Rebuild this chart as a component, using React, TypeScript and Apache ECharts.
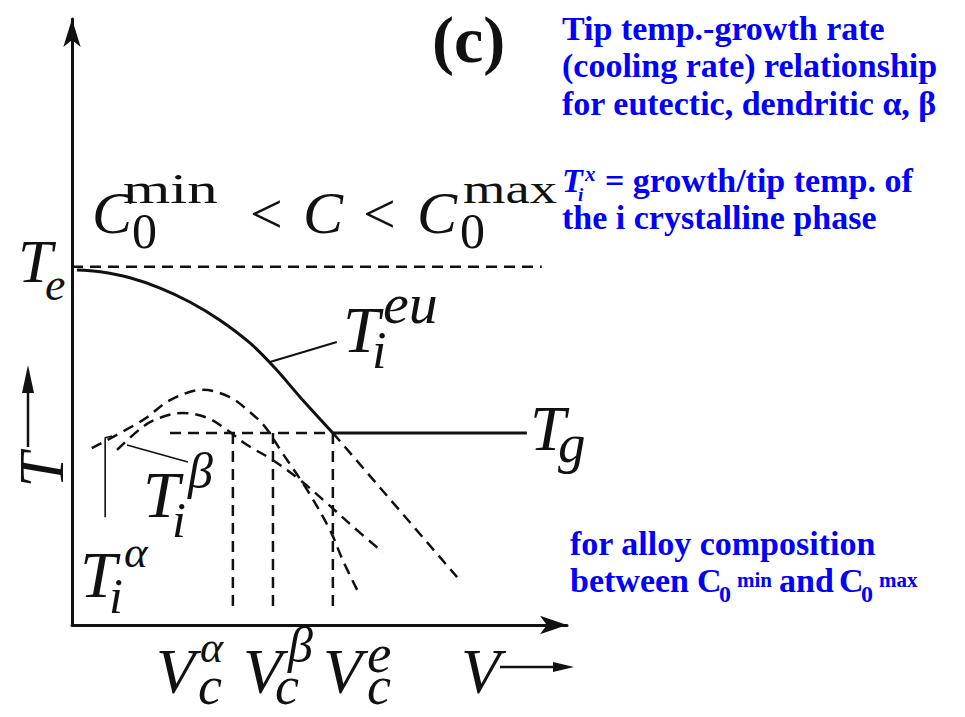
import React, { useEffect, useRef } from 'react';
import * as echarts from 'echarts';

// ---- schematic data (V = growth rate, T = temperature, arbitrary units) ----
const T_E = 59.1; // eutectic temperature
const T_G = 31.7; // level where the eutectic curve flattens
const V_C = [32.5, 40.6, 52.7]; // critical rates V_c^alpha, V_c^beta, V_c^e
const V_TE_END = 94.9;
const V_TG_DASH_START = 19.8;
const V_TG_END = 91.9;
const V_FLOOR = 2.0;

const eutecticCurve: number[][] = [
  [1.0, 58.6], [5.7, 58.3], [11.7, 57.3], [17.8, 55.6], [23.8, 53.3],
  [29.9, 50.3], [36.0, 46.5], [41.0, 42.4], [46.1, 37.6], [52.7, 31.7],
];
const eutecticExtension: number[][] = [[52.7, 31.7], [77.8, 7.9]];
const alphaTip: number[][] = [
  [4.0, 29.2], [14.3, 33.8], [19.8, 37.1], [26.5, 38.8], [31.9, 37.6], [35.4, 35.5],
  [39.0, 32.7], [42.4, 28.5], [47.5, 22.3], [52.1, 15.7], [54.7, 10.7], [57.6, 5.8],
];
const betaTip: number[][] = [
  [9.1, 28.9], [14.3, 32.7], [17.8, 34.2], [22.4, 35.0], [27.3, 34.2], [31.3, 32.2],
  [35.4, 29.7], [40.6, 27.2], [46.1, 23.9], [51.5, 20.1], [56.8, 16.2], [62.8, 12.0],
];
const leaderEu: number[][] = [[40.0, 43.4], [53.5, 46.7]];
const leaderAlpha: number[][] = [[8.1, 31.2], [6.7, 30.9], [6.7, 17.8]];
const leaderBeta: number[][] = [[11.1, 29.7], [23.4, 26.9]];

const INK = '#111';
const BLUE = '#0000ff';
const SERIF = '"Liberation Serif", "Times New Roman", Times, serif';

type TOpt = { italic?: boolean; bold?: boolean; sx?: number; color?: string };

// text placed by its left edge and baseline
function label(text: string, x: number, baseline: number, size: number, o: TOpt = {}) {
  return {
    type: 'text',
    x,
    y: baseline - 0.34 * size,
    scaleX: o.sx ?? 1,
    silent: true,
    z: 10,
    style: {
      text,
      fill: o.color ?? INK,
      fontFamily: SERIF,
      fontSize: size,
      fontStyle: o.italic === false ? 'normal' : 'italic',
      fontWeight: o.bold ? 'bold' : 'normal',
      align: 'left',
      verticalAlign: 'middle',
    },
  };
}
const note = (text: string, x: number, baseline: number, size = 34, italic = false) =>
  label(text, x, baseline, size, { bold: true, italic, color: BLUE });

function curve(data: number[][], dashed: boolean, width = 2.5, smooth: number | boolean = false) {
  return {
    type: 'line',
    data,
    smooth,
    symbol: 'none',
    silent: true,
    clip: false,
    lineStyle: { color: INK, width, type: dashed ? [11, 7] : 'solid', cap: 'butt' },
  };
}

const axisCommon = {
  type: 'value',
  min: 0,
  max: 100,
  axisTick: { show: false },
  axisLabel: { show: false },
  splitLine: { show: false },
};

const option = {
  animation: false,
  backgroundColor: '#fff',
  grid: { left: 72, top: 19, width: 495, height: 606 },
  xAxis: {
    ...axisCommon,
    axisLine: { show: true, symbol: ['none', 'arrow'], symbolSize: [14, 27], lineStyle: { color: INK, width: 3 } },
  },
  yAxis: {
    ...axisCommon,
    axisLine: { show: true, symbol: ['none', 'arrow'], symbolSize: [13, 28], lineStyle: { color: INK, width: 3 } },
  },
  series: [
    curve([[0, T_E], [V_TE_END, T_E]], true),
    curve(eutecticCurve, false, 3, 0.35),
    curve([[V_C[2], T_G], [V_TG_END, T_G]], false, 3),
    curve([[V_TG_DASH_START, T_G], [V_C[2], T_G]], true),
    ...V_C.map((v) => curve([[v, T_G], [v, V_FLOOR]], true)),
    curve(eutecticExtension, true),
    curve(alphaTip, true, 2.5, 0.35),
    curve(betaTip, true, 2.5, 0.35),
    curve(leaderEu, false, 2),
    curve(leaderAlpha, false, 1.6),
    curve(leaderBeta, false, 1.6),
  ],
  graphic: [
    label('(c)', 432, 62, 66, { italic: false, bold: true }),
    // C0^min < C < C0^max
    label('C', 92, 233, 60),
    label('min', 123, 203, 42, { italic: false, sx: 1.45 }),
    label('0', 132, 248, 50, { italic: false }),
    label('<', 250, 233, 58, { italic: false }),
    label('C', 303, 233, 60),
    label('<', 363, 233, 58, { italic: false }),
    label('C', 417, 233, 60),
    label('max', 463, 203, 42, { italic: false, sx: 1.3 }),
    label('0', 460, 248, 50, { italic: false }),
    // T_e
    label('T', 18, 282, 62),
    label('e', 45, 300, 46),
    // rotated T with upward arrow
    {
      type: 'text', x: 42, y: 470, rotation: Math.PI / 2, silent: true,
      style: { text: 'T', fill: INK, fontFamily: SERIF, fontSize: 63, fontStyle: 'italic', align: 'center', verticalAlign: 'middle' },
    },
    { type: 'line', silent: true, shape: { x1: 28, y1: 447, x2: 28, y2: 390 }, style: { stroke: INK, lineWidth: 2.5 } },
    { type: 'polygon', silent: true, shape: { points: [[22, 393], [28, 365], [34, 393]] }, style: { fill: INK } },
    // T_i^eu
    label('T', 343, 352, 66),
    label('i', 372, 368, 52),
    label('eu', 383, 323, 58),
    // T_g
    label('T', 530, 450, 64),
    label('g', 558, 462, 55),
    // T_i^beta
    label('T', 143, 517, 66),
    label('β', 188, 488, 50),
    label('i', 172, 537, 50),
    // T_i^alpha
    label('T', 80, 597, 66),
    label('α', 124, 567, 45),
    label('i', 109, 613, 50),
    // V_c labels
    label('V', 156, 693, 64),
    label('α', 200, 662, 44),
    label('c', 198, 704, 54),
    label('V', 243, 693, 64),
    label('β', 288, 662, 50),
    label('c', 275, 704, 54),
    label('V', 323, 693, 64),
    label('e', 367, 672, 55),
    label('c', 367, 704, 54),
    label('V', 461, 693, 64),
    { type: 'line', silent: true, shape: { x1: 500, y1: 667, x2: 556, y2: 667 }, style: { stroke: INK, lineWidth: 2.5 } },
    { type: 'polygon', silent: true, shape: { points: [[553, 662], [574, 667], [553, 672]] }, style: { fill: INK } },
    // explanatory notes
    note('Tip temp.-growth rate', 562, 40),
    note('(cooling rate) relationship', 562, 77),
    note('for eutectic, dendritic α, β', 562, 115),
    note('T', 562, 192, 34, true),
    note('i', 578, 201, 19, true),
    note('x', 585, 181, 21, true),
    note('= growth/tip temp. of', 605, 192),
    note('the i crystalline phase', 562, 229),
    note('for alloy composition', 570, 555),
    note('between', 570, 592),
    note('C', 697, 592),
    note('0', 719, 602, 24),
    note('min', 737, 587, 21),
    note('and', 779, 592),
    note('C', 839, 592),
    note('0', 861, 602, 24),
    note('max', 879, 587, 21),
  ],
};

export default function App() {
  const ref = useRef<HTMLDivElement>(null);
  useEffect(() => {
    const chart = echarts.init(ref.current!, null, { renderer: 'svg' });
    chart.setOption(option as any);
    return () => chart.dispose();
  }, []);
  return (
    <div
      ref={ref}
      style={{ position: 'absolute', left: 0, top: 0, width: 965, height: 717, background: '#fff' }}
    />
  );
}
